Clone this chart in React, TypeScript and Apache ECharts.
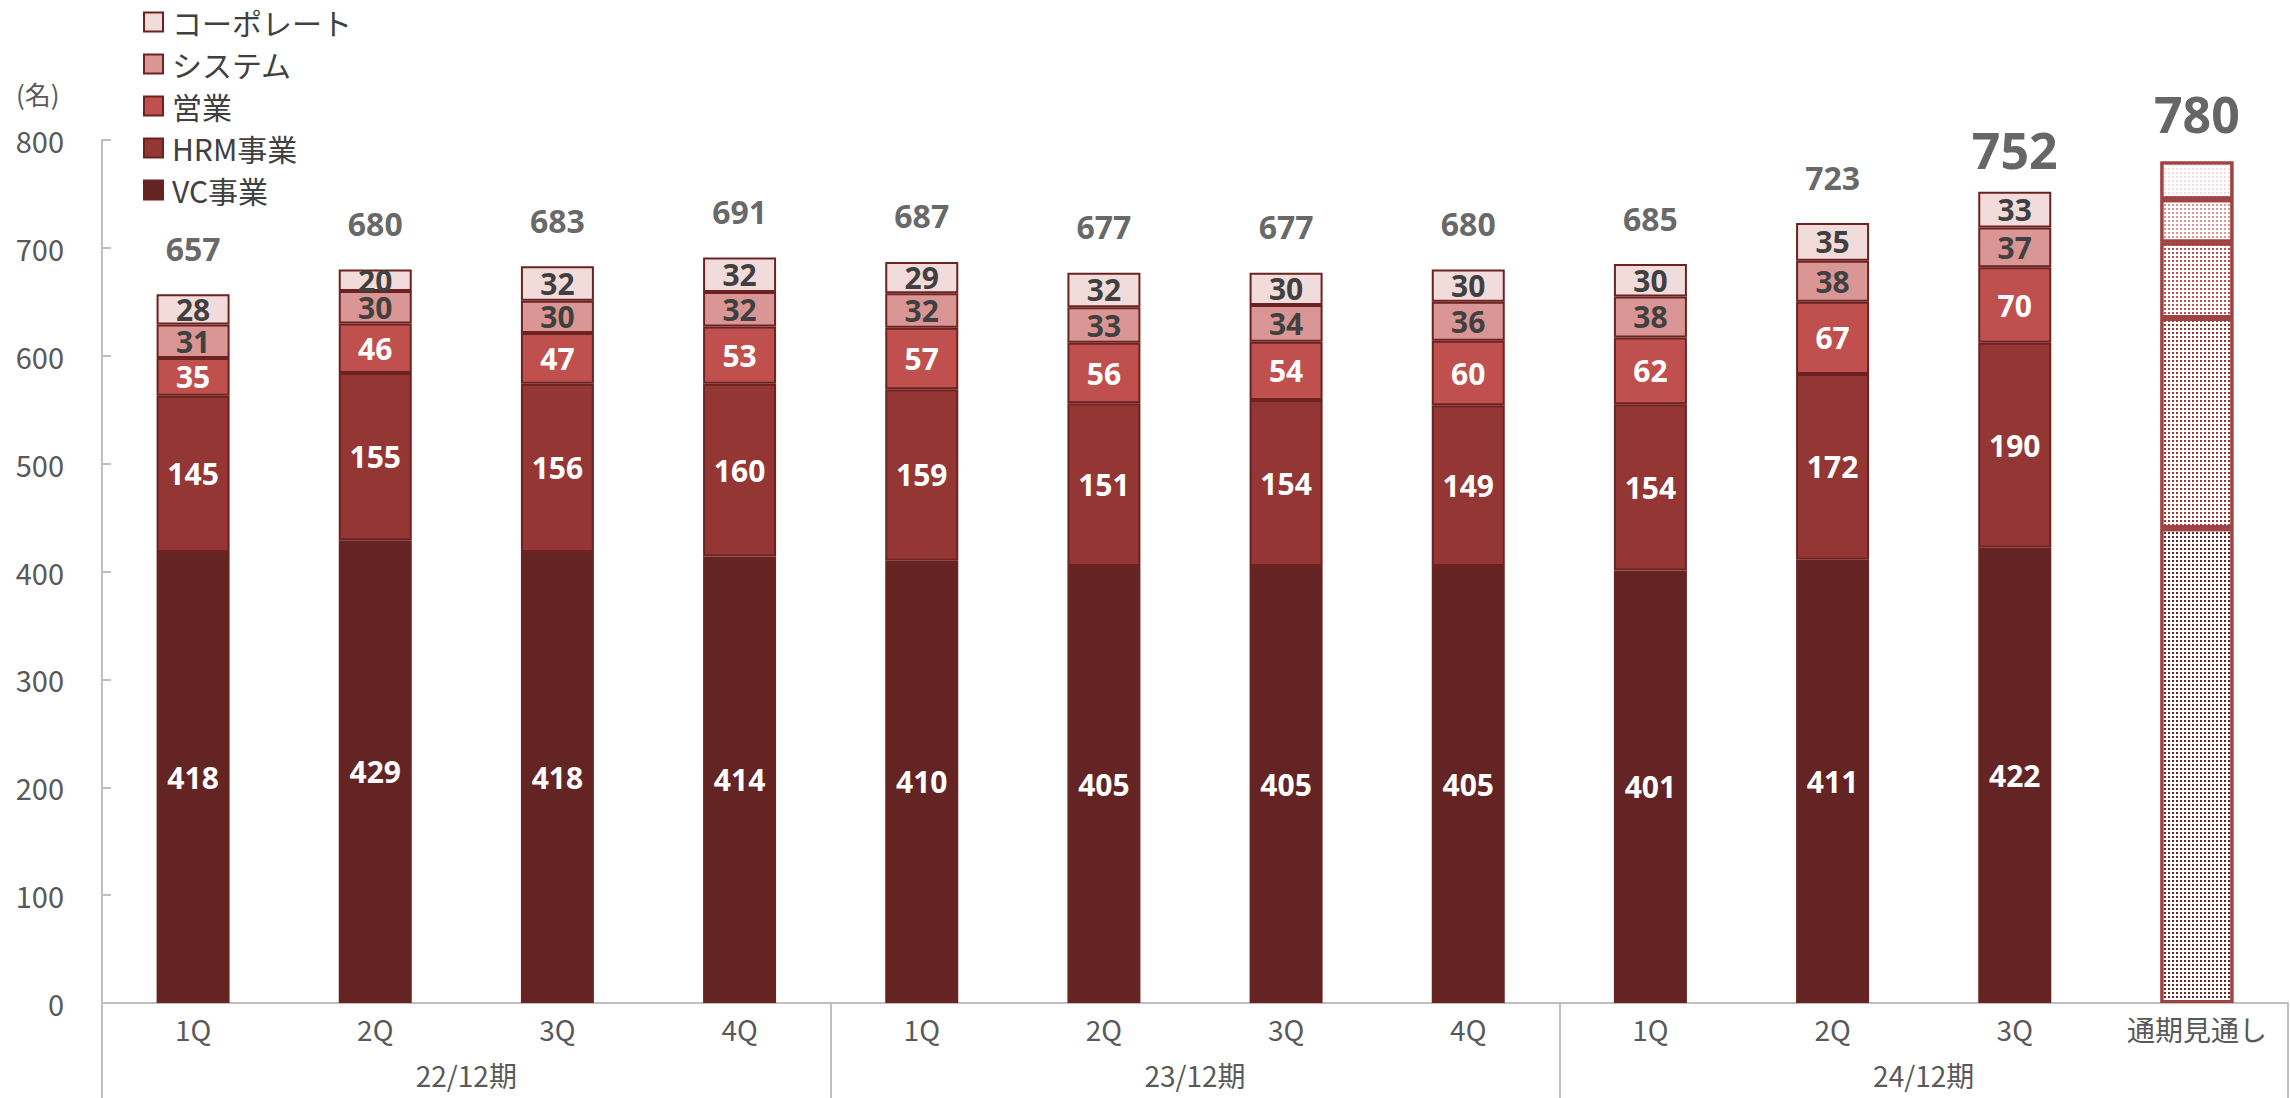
import React, { useEffect, useRef } from "react";
import * as echarts from "echarts";

const categories = ["1Q", "2Q", "3Q", "4Q", "1Q", "2Q", "3Q", "4Q", "1Q", "2Q", "3Q", "通期見通し"];
const periods = ["22/12期", "23/12期", "24/12期"];
const seriesNames = ["VC事業", "HRM事業", "営業", "システム", "コーポレート"];
const vcValues = [418, 429, 418, 414, 410, 405, 405, 405, 401, 411, 422, 440];
const hrmValues = [145, 155, 156, 160, 159, 151, 154, 149, 154, 172, 190, 195];
const salesValues = [35, 46, 47, 53, 57, 56, 54, 60, 62, 67, 70, 70];
const systemValues = [31, 30, 30, 32, 32, 33, 34, 36, 38, 38, 37, 40];
const corporateValues = [28, 20, 32, 32, 29, 32, 30, 30, 30, 35, 33, 35];
const totals = [657, 680, 683, 691, 687, 677, 677, 680, 685, 723, 752, 780];
const yTicks = [0, 100, 200, 300, 400, 500, 600, 700, 800];

const colors = ["#632423", "#943634", "#c0504d", "#da9694", "#f2dcdb"];
const labelColors = ["#ffffff", "#ffffff", "#ffffff", "#404040", "#404040"];
const FORECAST_INDEX = 11;
const BIG_TOTALS = [10, 11];
const FONT = "'Noto Sans CJK JP', 'Noto Sans', sans-serif";
const NUM_FONT = "'Noto Sans', 'Noto Sans CJK JP', sans-serif";

export default function App() {
  const ref = useRef<HTMLDivElement>(null);
  useEffect(() => {
    if (!ref.current) return;
    const chart = echarts.init(ref.current, undefined, { renderer: "svg" });
    const valueSets = [vcValues, hrmValues, salesValues, systemValues, corporateValues];
    const barSeries = seriesNames.map((name, si) => ({
      name,
      type: "bar",
      stack: "total",
      barWidth: 73,
      itemStyle: { color: colors[si], borderColor: "#6b2221", borderWidth: 2 },
      label: {
        show: true,
        position: "inside",
        color: labelColors[si],
        fontSize: 30,
        fontWeight: "bold",
        fontFamily: NUM_FONT,
      },
      data: valueSets[si].map((v, i) =>
        i === FORECAST_INDEX
          ? {
              value: v,
              itemStyle: {
                color: "#ffffff",
                borderColor: "#a04242",
                borderWidth: 3,
                decal: {
                  symbol: "rect",
                  symbolSize: 1,
                  color: colors[si],
                  dashArrayX: [2, 2],
                  dashArrayY: [2, 2],
                  rotation: 0,
                },
              },
              label: { show: false },
            }
          : v
      ),
    }));
    const option: any = {
      animation: false,
      aria: { enabled: true, decal: { show: false } },
      grid: { left: 102, right: 2, top: 140, bottom: 95, containLabel: false },
      legend: {
        orient: "vertical",
        left: 143,
        top: 7,
        padding: 0,
        icon: "rect",
        itemWidth: 19,
        itemHeight: 19,
        itemGap: 12,
        data: [...seriesNames].reverse(),
        textStyle: { fontSize: 30, lineHeight: 30, color: "#404040", fontFamily: FONT, padding: [0, 0, 0, 4] },
        itemStyle: { borderColor: "#6b2221", borderWidth: 2 },
      },
      xAxis: [
        {
          type: "category",
          data: categories,
          axisLine: { lineStyle: { color: "#bfbfbf", width: 2 } },
          axisTick: { show: false },
          axisLabel: { color: "#595959", fontSize: 28, fontFamily: FONT, margin: 12, interval: 0 },
        },
        {
          type: "category",
          data: periods,
          position: "bottom",
          axisLine: { show: false },
          axisTick: { show: true, length: 95, lineStyle: { color: "#bfbfbf", width: 2 } },
          axisLabel: { color: "#595959", fontSize: 28, fontFamily: FONT, margin: 58 },
        },
      ],
      yAxis: {
        type: "value",
        min: yTicks[0],
        max: yTicks[yTicks.length - 1],
        interval: 100,
        splitLine: { show: false },
        axisLine: { show: true, lineStyle: { color: "#bfbfbf", width: 2 } },
        axisTick: { show: true, inside: true, length: 9, lineStyle: { color: "#bfbfbf", width: 2 } },
        axisLabel: { color: "#595959", fontSize: 29, fontFamily: FONT, margin: 38 },
      },
      graphic: [
        {
          type: "text",
          left: 16,
          top: 80,
          style: { text: "(名)", fontSize: 26, fill: "#595959", fontFamily: FONT },
        },
      ],
      series: [
        ...barSeries,
        {
          name: "total",
          type: "scatter",
          symbolSize: 0,
          z: 10,
          label: {
            show: true,
            position: "top",
            distance: 30,
            color: "#404040",
            fontSize: 32,
            fontWeight: "bold",
            fontFamily: NUM_FONT,
          },
          data: totals.map((t, i) =>
            BIG_TOTALS.includes(i)
              ? { value: t, label: { fontSize: 50, distance: i === FORECAST_INDEX ? 23 : 17 } }
              : t
          ),
        },
      ],
    };
    chart.setOption(option);
    return () => chart.dispose();
  }, []);
  return (
    <div
      ref={ref}
      style={{ position: "fixed", left: 0, top: 0, width: 2290, height: 1098, background: "#ffffff" }}
    />
  );
}
